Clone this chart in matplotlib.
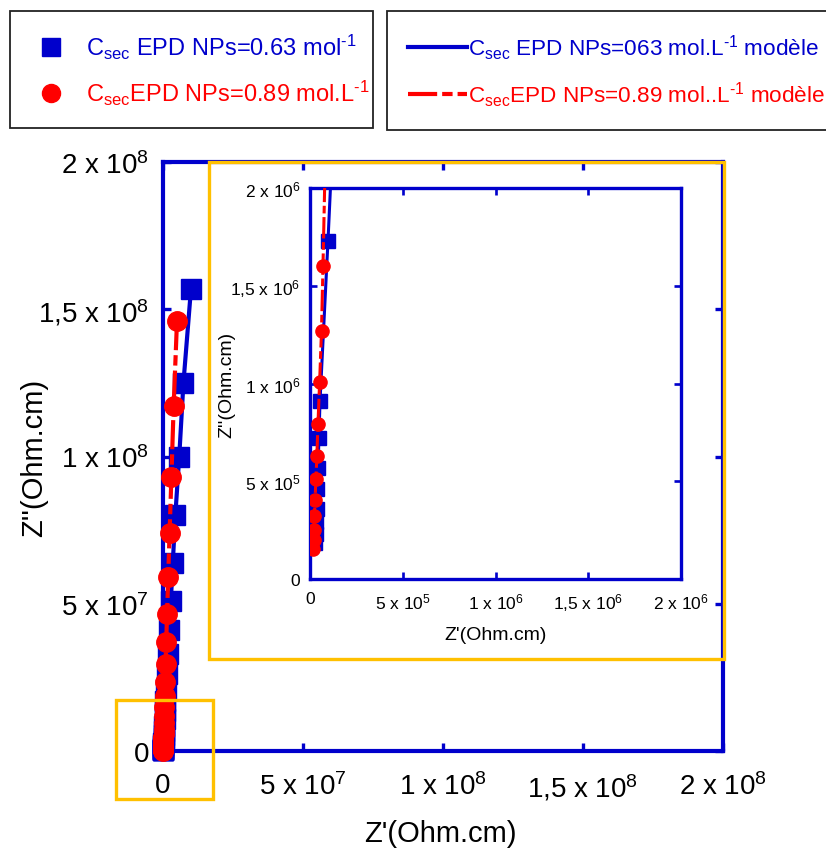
import matplotlib

matplotlib.use("Agg")
import matplotlib.pyplot as plt
from matplotlib.lines import Line2D
from matplotlib.patches import Rectangle

plt.rcParams["font.family"] = ["Liberation Sans", "DejaVu Sans"]
plt.rcParams["mathtext.fontset"] = "custom"
plt.rcParams["mathtext.rm"] = "Liberation Sans"
plt.rcParams["mathtext.it"] = "Liberation Sans:italic"
plt.rcParams["mathtext.default"] = "regular"

BLUE = "#0000CC"
RED = "#FF0000"
ORANGE = "#FFC000"

# EPD NPs = 0.63 mol/L : Z'' and Z' (Ohm.cm)
blue_zim = [1.57e8, 1.25e8, 1.0e8, 8.0e7, 6.4e7, 5.1e7, 4.1e7, 3.3e7, 2.6e7, 2.1e7,
            1.7e7, 1.35e7, 1.08e7, 8.6e6, 6.9e6, 5.5e6, 4.4e6, 3.5e6, 2.8e6, 2.2e6,
            1.73e6, 9.1e5, 7.2e5, 5.7e5, 4.6e5, 3.6e5, 2.9e5, 2.3e5, 1.85e5]
blue_zre = [1.0e7, 7.3e6, 5.8e6, 4.4e6, 3.5e6, 2.8e6, 2.2e6, 1.8e6, 1.4e6, 1.1e6,
            8.9e5, 7.0e5, 5.6e5, 4.5e5, 3.6e5, 2.9e5, 2.3e5, 1.9e5, 1.5e5, 1.2e5,
            9.7e4, 5.4e4, 4.8e4, 4.4e4, 4.0e4, 3.6e4, 3.3e4, 3.0e4, 2.8e4]

# EPD NPs = 0.89 mol/L
red_zim = [1.46e8, 1.17e8, 9.3e7, 7.4e7, 5.9e7, 4.65e7, 3.7e7, 2.95e7, 2.35e7, 1.86e7,
           1.48e7, 1.18e7, 9.4e6, 7.5e6, 5.9e6, 4.9e6, 4.0e6, 3.2e6, 2.55e6, 2.05e6,
           1.6e6, 1.27e6, 1.01e6, 7.95e5, 6.3e5, 5.1e5, 4.05e5, 3.2e5, 2.5e5, 2.0e5, 1.55e5]
red_zre = [5.0e6, 3.8e6, 3.0e6, 2.35e6, 1.85e6, 1.45e6, 1.15e6, 9.2e5, 7.4e5, 5.9e5,
           4.7e5, 3.8e5, 3.1e5, 2.5e5, 2.0e5, 1.7e5, 1.4e5, 1.15e5, 9.5e4, 8.0e4,
           7.0e4, 6.2e4, 5.2e4, 4.3e4, 3.7e4, 3.2e4, 2.7e4, 2.4e4, 2.1e4, 1.9e4, 1.7e4]

main_ticks = [0, 5e7, 1e8, 1.5e8, 2e8]
main_labels = ["0", "5 x 10$^{7}$", "1 x 10$^{8}$", "1,5 x 10$^{8}$", "2 x 10$^{8}$"]
inset_ticks = [0, 5e5, 1e6, 1.5e6, 2e6]
inset_labels = ["0", "5 x 10$^{5}$", "1 x 10$^{6}$", "1,5 x 10$^{6}$", "2 x 10$^{6}$"]

legend_labels_pts = [r"C$_{sec}$ EPD NPs=0.63 mol$^{\text{-1}}$",
                     r"C$_{sec}$EPD NPs=0.89 mol.L$^{\text{-1}}$"]
legend_labels_mod = [r"C$_{sec}$ EPD NPs=063 mol.L$^{\text{-1}}$ modèle",
                     r"C$_{sec}$EPD NPs=0.89 mol..L$^{\text{-1}}$ modèle"]

RED_DASH = (0, (7, 1.2, 2.5, 1.2))

W, H = 826, 853
fig = plt.figure(figsize=(W / 100, H / 100), dpi=100)


def fbox(x0, y0, x1, y1):
    """Pixel box (top-left origin) -> figure fraction [left, bottom, width, height]."""
    return [x0 / W, 1 - y1 / H, (x1 - x0) / W, (y1 - y0) / H]


def style_axes(ax, ticks, labels, size, spine_lw, tick_len, xpad, ypad):
    for sp in ax.spines.values():
        sp.set_color(BLUE)
        sp.set_linewidth(spine_lw)
    ax.set_xlim(ticks[0], ticks[-1])
    ax.set_ylim(ticks[0], ticks[-1])
    ax.set_xticks(ticks, labels)
    ax.set_yticks(ticks, labels)
    ax.tick_params(direction="in", length=tick_len, width=spine_lw * 0.8, color=BLUE,
                   labelsize=size, top=True, right=True)
    ax.tick_params(axis="x", pad=xpad)
    ax.tick_params(axis="y", pad=ypad)


# main plot
ax = fig.add_axes(fbox(163, 163, 723, 752))
ax.plot(blue_zre, blue_zim, ls="none", marker="s", ms=14, color=BLUE, clip_on=False, zorder=3)
ax.plot(blue_zre, blue_zim, ls="-", lw=3, color=BLUE, clip_on=False, zorder=3)
ax.plot(red_zre, red_zim, ls="none", marker="o", ms=14, color=RED, clip_on=False, zorder=4)
ax.plot(red_zre, red_zim, ls=RED_DASH, lw=3, color=RED, clip_on=False, zorder=4)
style_axes(ax, main_ticks, main_labels, 20, 3, 6, 15, 10)
ax.set_xlabel("Z'(Ohm.cm)", fontsize=21)
ax.set_ylabel("Z''(Ohm.cm)", fontsize=21)
ax.xaxis.set_label_coords(0.495, -0.115)
ax.yaxis.set_label_coords(-0.205, 0.5)

# inset (zoom near origin)
axi = fig.add_axes(fbox(310, 189, 681, 580))
axi.plot(blue_zre, blue_zim, ls="none", marker="s", ms=9.5, color=BLUE, zorder=3)
axi.plot(blue_zre, blue_zim, ls="-", lw=2.2, color=BLUE, zorder=3)
axi.plot(red_zre, red_zim, ls="none", marker="o", ms=9.5, color=RED, zorder=4)
axi.plot(red_zre, red_zim, ls=RED_DASH, lw=2.2, color=RED, zorder=4)
style_axes(axi, inset_ticks, inset_labels, 12.5, 2.4, 5, 9, 7)
axi.set_xlabel("Z'(Ohm.cm)", fontsize=14)
axi.set_ylabel("Z''(Ohm.cm)", fontsize=14)
axi.xaxis.set_label_coords(0.5, -0.12)
axi.yaxis.set_label_coords(-0.2, 0.5)

# orange zoom frames
for box in [(209, 163, 724, 660), (116, 701, 213, 800)]:
    l, b, w, h = fbox(*box)
    fig.add_artist(Rectangle((l, b), w, h, transform=fig.transFigure, fill=False,
                             edgecolor=ORANGE, lw=2.4, zorder=5))

# legends
pts_handles = [Line2D([], [], ls="none", marker="s", ms=13, color=BLUE),
               Line2D([], [], ls="none", marker="o", ms=13, color=RED)]
mod_handles = [Line2D([], [], ls="-", lw=3, color=BLUE),
               Line2D([], [], ls=RED_DASH, lw=3, color=RED)]

leg_top = 1 - 12 / H
common = dict(loc="upper left", mode="expand", borderaxespad=0,
              frameon=True, fancybox=False, framealpha=1, edgecolor="#222222",
              labelcolor="linecolor")
leg1 = fig.legend(pts_handles, legend_labels_pts,
                  bbox_to_anchor=(10 / W, leg_top - 0.1, 363 / W, 0.1),
                  fontsize=17, borderpad=0.9, labelspacing=0.7,
                  handlelength=1.7, handletextpad=0.64, **common)
leg2 = fig.legend(mod_handles, legend_labels_mod,
                  bbox_to_anchor=(387 / W, leg_top - 0.1, 460 / W, 0.1),
                  fontsize=16.2, borderpad=0.95, labelspacing=0.77,
                  handlelength=2.6, handletextpad=0.05, **common)
for leg in (leg1, leg2):
    leg.get_frame().set_linewidth(1.3)

fig.savefig("out.png", dpi=100)
